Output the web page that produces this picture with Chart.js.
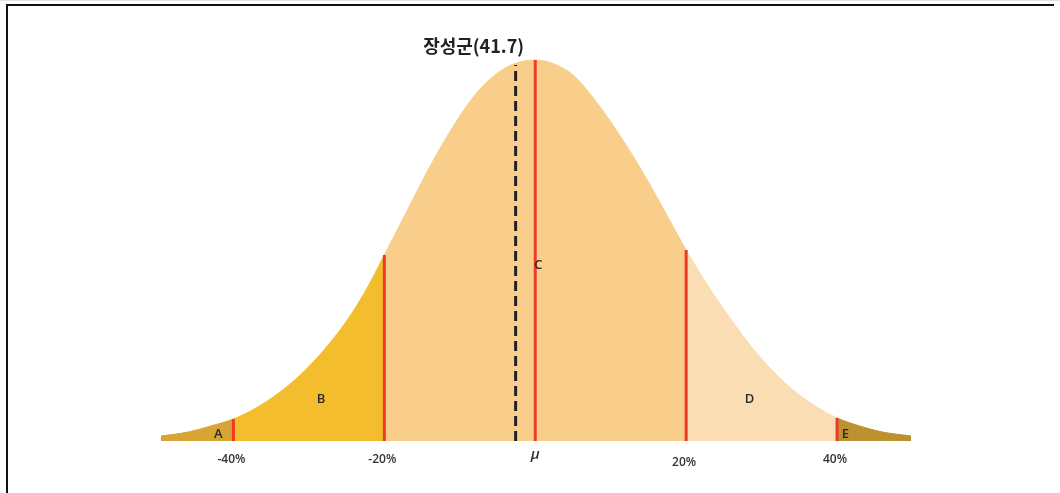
<!DOCTYPE html>
<html>
<head>
<meta charset="utf-8">
<script src="https://cdn.jsdelivr.net/npm/chart.js@4"></script>
<style>
  html, body { margin: 0; padding: 0; background: #fff; }
  #wrap { position: relative; width: 1060px; height: 493px; overflow: hidden; }
  #frame { position: absolute; left: 6px; top: 4px; width: 1046px; height: 500px;
           border-top: 2px solid #111; border-left: 2px solid #111; }
  #topline { position: absolute; left: 0; top: 0; width: 1060px; height: 1px; background: #e2e2e2; }
  canvas { position: absolute; left: 0; top: 0; }
</style>
</head>
<body>
<div id="wrap">
  <div id="topline"></div>
  <div id="frame"></div>
  <canvas id="bell" width="1060" height="493"></canvas>
</div>
<script>
// ---- data ----
// bell curve outline: x in % from the mean, y = height
var curveX = [-49.6, -46, -43, -40, -37, -34, -31, -28, -25, -22.5, -20, -17, -14, -11, -8, -5, -2.5, 0,
              2.5, 5, 8, 11, 14, 17, 20, 23, 26, 29, 32, 35, 38, 40, 43, 46, 49.8];
var curveY = [5, 9, 15, 22, 33, 48, 67, 91, 120, 150, 186, 230, 274, 313, 346, 368, 378, 381,
              377, 366, 340, 308, 272, 232, 191, 154, 121, 91, 66, 46, 31, 23, 15, 9, 5];

// shaded zones A..E
var zoneNames  = ['A', 'B', 'C', 'D', 'E'];
var zoneBounds = [-49.6, -40, -20, 20, 40, 49.8];
var zoneColors = ['#D6A534', '#F3BD2D', '#F8CE8A', '#FADDB3', '#BC912F'];
var zoneLabelX = [-42.0, -28.4, 0.4, 28.4, 41.1];
var zoneLabelY = [7, 42, 176, 42, 7];

// red cut lines
var cutX = [-40, -20, 0, 20, 40];
var cutY = [22, 186, 381, 191, 23];

// tick labels
var tickX = [-40, -20, 0, 20, 40];
var tickLabels = ['-40%', '-20%', 'μ', '20%', '40%'];

// 장성군 marker
var markName = '장성군(41.7)';
var markX = -2.6;
var markY = 376;

function zoneColor(x) {
  for (var i = 0; i < zoneNames.length; i++) {
    if (x >= zoneBounds[i] && x < zoneBounds[i + 1]) return zoneColors[i];
  }
  return zoneColors[zoneColors.length - 1];
}

// ---- build datasets ----
var datasets = [];

// red lines (on top)
cutX.forEach(function(x, i) {
  datasets.push({
    data: [{ x: x, y: 0 }, { x: x, y: cutY[i] }],
    borderColor: '#EE3A2C',
    borderWidth: 3,
    pointRadius: 0,
    fill: false,
    order: 0
  });
});

// dashed marker line
datasets.push({
  data: [{ x: markX, y: 0 }, { x: markX, y: markY }],
  borderColor: '#222',
  borderWidth: 3,
  borderDash: [10, 5],
  pointRadius: 0,
  fill: false,
  order: 0
});

// the bell, coloured by zone
datasets.push({
  data: curveX.map(function(x, j) { return { x: x, y: curveY[j] }; }),
  borderColor: zoneColors[2],
  backgroundColor: zoneColors[2],
  borderWidth: 1,
  fill: 'origin',
  pointRadius: 0,
  cubicInterpolationMode: 'monotone',
  segment: {
    backgroundColor: function(c) { return zoneColor(c.p0.parsed.x); },
    borderColor: function(c) { return zoneColor(c.p0.parsed.x); }
  },
  order: 1
});

// texts: ticks, zone letters, marker title
var textPlugin = {
  id: 'bellText',
  afterDatasetsDraw: function(chart) {
    var ctx = chart.ctx;
    var xs = chart.scales.x, ys = chart.scales.y;
    ctx.save();
    ctx.textAlign = 'center';
    ctx.textBaseline = 'middle';
    ctx.fillStyle = '#333';

    tickX.forEach(function(v, i) {
      var px = xs.getPixelForValue(v);
      if (tickLabels[i] === 'μ') {
        ctx.font = 'italic 600 15px "Open Sans", sans-serif';
        ctx.fillText(tickLabels[i], px, ys.getPixelForValue(0) + 14);
      } else {
        ctx.font = '600 12px "Open Sans", sans-serif';
        ctx.fillText(tickLabels[i], px - 2, ys.getPixelForValue(0) + 19 + (v === 20 ? 3 : 0));
      }
    });

    ctx.font = '600 13px "Open Sans", sans-serif';
    ctx.fillStyle = '#2a2a2a';
    zoneNames.forEach(function(n, i) {
      ctx.fillText(n, xs.getPixelForValue(zoneLabelX[i]), ys.getPixelForValue(zoneLabelY[i]));
    });

    ctx.font = 'bold 18px "Noto Sans CJK KR", sans-serif';
    ctx.fillStyle = '#222';
    ctx.fillText(markName, xs.getPixelForValue(markX) - 42, ys.getPixelForValue(markY) - 19);
    ctx.restore();
  }
};

new Chart(document.getElementById('bell'), {
  type: 'line',
  data: { datasets: datasets },
  options: {
    responsive: false,
    animation: false,
    layout: { padding: { left: 161, right: 149, top: 41, bottom: 52 } },
    plugins: { legend: { display: false }, tooltip: { enabled: false } },
    scales: {
      x: { type: 'linear', min: -49.6, max: 49.8, display: false },
      y: { min: 0, max: 400, display: false }
    }
  },
  plugins: [textPlugin]
});
</script>
</body>
</html>
